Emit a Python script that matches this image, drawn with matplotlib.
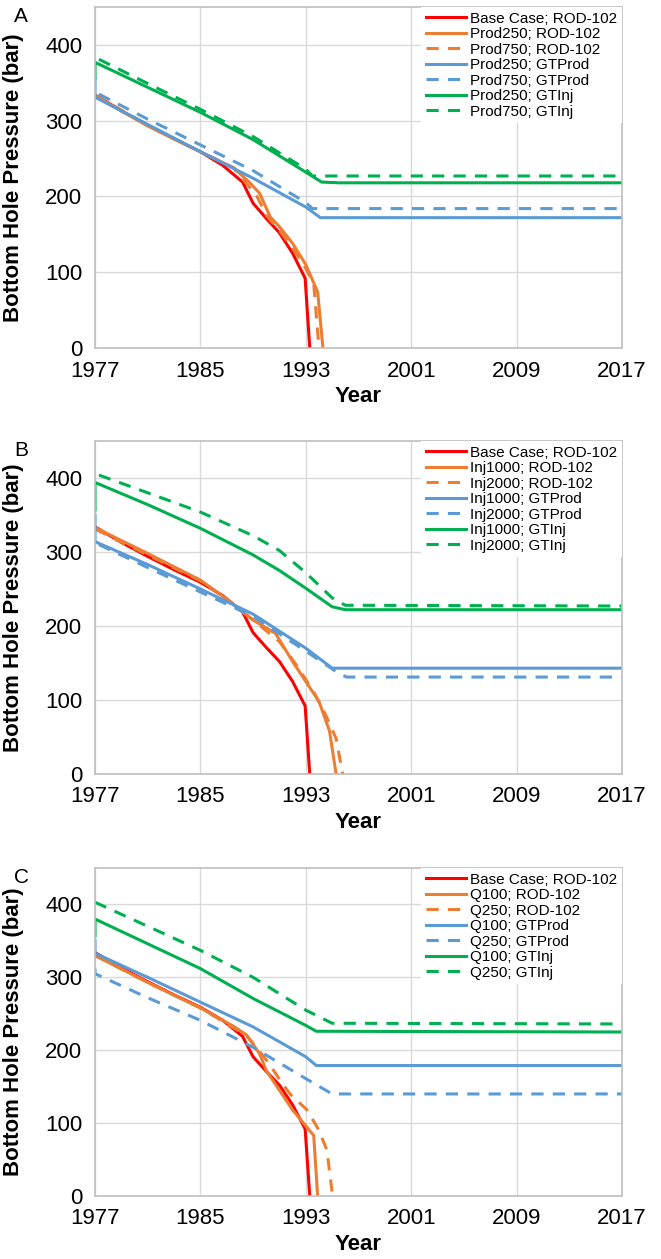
import matplotlib as mpl
mpl.use('Agg')
import matplotlib.pyplot as plt

plt.rcParams['font.family'] = ['Liberation Sans', 'DejaVu Sans']

# colours (Excel palette)
RED = '#FF0000'
ORANGE = '#ED7D31'
BLUE = '#5B9BD5'
GREEN = '#00B050'

# Base case, same curve in all three panels
base_years = [1977, 1979, 1981, 1983, 1985, 1986.7, 1988.2, 1989, 1990, 1991, 1992, 1992.95, 1993.3]
base_bhp = [334, 313, 294, 276, 259, 241, 219, 191, 171, 152, 125, 92, 0]

# ---- panel A: production rate
A_rod_s_x = [1977, 1981, 1985, 1987.5, 1988.7, 1989.5, 1990.3, 1991, 1992, 1993, 1993.9, 1994.3]
A_rod_s_y = [333, 293, 259, 238, 219, 204, 173, 160, 138, 110, 74, 0]
A_rod_d_x = [1977, 1981, 1985, 1987.5, 1988.5, 1989.3, 1990, 1991, 1992, 1993, 1993.6, 1994.0]
A_rod_d_y = [334, 294, 259, 238, 217, 200, 175, 155, 132, 105, 85, 0]
A_gtp_s_x = [1977, 1977, 1981, 1985, 1989, 1993, 1994.1, 2017]
A_gtp_s_y = [355, 331, 295, 259, 224, 186, 172, 172]
A_gtp_d_x = [1977.3, 1981, 1985, 1989, 1993, 1993.5, 2017]
A_gtp_d_y = [335, 302, 268, 234, 192, 184, 184]
A_gti_s_x = [1977, 1977, 1981, 1985, 1989, 1993, 1994.2, 1995.5, 2017]
A_gti_s_y = [357, 377, 344, 311, 275, 232, 219, 218, 218]
A_gti_d_x = [1977.3, 1981, 1985, 1989, 1993, 1993.5, 2017]
A_gti_d_y = [381, 349, 315, 279, 236, 227, 227]
A_labels = ['Base Case; ROD-102', 'Prod250; ROD-102', 'Prod750; ROD-102',
            'Prod250; GTProd', 'Prod750; GTProd', 'Prod250; GTInj', 'Prod750; GTInj']

# ---- panel B: injection rate
B_rod_s_x = [1977, 1981, 1985, 1987.1, 1989, 1990.7, 1992, 1993, 1994, 1994.8, 1995.3]
B_rod_s_y = [333, 298, 262, 235, 208, 190, 152, 125, 98, 58, 0]
B_rod_d_x = [1977, 1981, 1985, 1987.1, 1989, 1991, 1992.3, 1993.6, 1994.5, 1995.3, 1995.8]
B_rod_d_y = [331, 296, 261, 235, 208, 179, 147, 111, 80, 48, 0]
B_gtp_s_x = [1977, 1977, 1981, 1985, 1989, 1993, 1995, 2017]
B_gtp_s_y = [350, 314, 283, 250, 216, 170, 143, 143]
B_gtp_d_x = [1977.3, 1981, 1985, 1989, 1993, 1995.5, 1996.1, 2017]
B_gtp_d_y = [310, 279, 246, 213, 166, 136, 131, 131]
B_gti_s_x = [1977, 1977, 1981, 1985, 1989, 1991, 1993, 1995, 1996, 2017]
B_gti_s_y = [357, 394, 364, 332, 296, 275, 251, 226, 222, 222]
B_gti_d_x = [1977.3, 1981, 1985, 1989, 1991, 1993, 1995, 1996, 2017]
B_gti_d_y = [404, 380, 354, 322, 302, 272, 238, 228, 227]
B_labels = ['Base Case; ROD-102', 'Inj1000; ROD-102', 'Inj2000; ROD-102',
            'Inj1000; GTProd', 'Inj2000; GTProd', 'Inj1000; GTInj', 'Inj2000; GTInj']

# ---- panel C: flow rate
C_rod_s_x = [1977, 1981, 1985, 1987.5, 1988.5, 1989.5, 1990, 1991, 1992, 1993.6, 1993.9]
C_rod_s_y = [330, 293, 258, 233, 221, 195, 172, 145, 118, 83, 0]
C_rod_d_x = [1977, 1981, 1985, 1988.5, 1989.2, 1990.2, 1991, 1991.8, 1993.1, 1994, 1994.6, 1995]
C_rod_d_y = [330, 293, 258, 220, 205, 182, 160, 140, 118, 90, 63, 5]
C_gtp_s_x = [1977, 1977, 1981, 1985, 1989, 1993, 1993.8, 2017]
C_gtp_s_y = [350, 333, 300, 266, 232, 191, 179, 179]
C_gtp_d_x = [1977, 1977, 1981, 1985, 1989, 1993, 1995, 2017]
C_gtp_d_y = [312, 305, 272, 241, 204, 161, 140, 140]
C_gti_s_x = [1977, 1977, 1981, 1985, 1989, 1993, 1993.8, 2017]
C_gti_s_y = [357, 380, 346, 312, 271, 234, 226, 225]
C_gti_d_x = [1977, 1981, 1985, 1989, 1993, 1995, 2017]
C_gti_d_y = [403, 370, 337, 300, 255, 237, 236]
C_labels = ['Base Case; ROD-102', 'Q100; ROD-102', 'Q250; ROD-102',
            'Q100; GTProd', 'Q250; GTProd', 'Q100; GTInj', 'Q250; GTInj']

xticks = [1977, 1985, 1993, 2001, 2009, 2017]
yticks = [0, 100, 200, 300, 400]

LW = 2.2
DASH = (4, 3)


def draw_panel(ax, letter, labels, series, h_px):
    styles = [(RED, None), (ORANGE, None), (ORANGE, DASH), (BLUE, None),
              (BLUE, DASH), (GREEN, None), (GREEN, DASH)]
    for (xs, ys), (col, dash), lab in zip(series, styles, labels):
        line, = ax.plot(xs, ys, color=col, lw=LW, label=lab, solid_joinstyle='miter')
        if dash is not None:
            line.set_dashes(dash)

    ax.set_xlim(1977, 2017)
    ax.set_ylim(0, 450)
    ax.set_xticks(xticks)
    ax.set_yticks(yticks)
    ax.tick_params(length=0, labelsize=16, pad=9)
    ax.grid(True, color='#D9D9D9', lw=1)
    ax.set_axisbelow(True)
    for sp in ax.spines.values():
        sp.set_color('#BFBFBF')
        sp.set_linewidth(1.2)

    ax.set_ylabel('Bottom Hole Pressure (bar)', fontsize=16, fontweight='bold')
    ax.set_xlabel('Year', fontsize=16, fontweight='bold')
    ax.yaxis.set_label_coords(-0.135, 0.5)
    # top of "Year" about 38 px under the axis
    ax.xaxis.set_label_coords(0.5, -38.0 / h_px)

    ax.legend(loc='upper right', bbox_to_anchor=(1.0, 1.0), borderaxespad=0,
              fontsize=11, labelspacing=0.1, handlelength=2.6,
              handletextpad=0.3, borderpad=0.3, fancybox=False,
              framealpha=1, edgecolor='none', facecolor='white')
    ax.text(-0.14, 1.0, letter, transform=ax.transAxes, fontsize=15,
            ha='center', va='top')


fig = plt.figure(figsize=(6.61, 12.59), dpi=100)

W, H = 661.0, 1259.0
boxes = [(95, 622, 7, 348), (95, 622, 441, 774), (95, 622, 868, 1196)]
axes = []
for l, r, t, b in boxes:
    axes.append(fig.add_axes([l / W, 1 - b / H, (r - l) / W, (b - t) / H]))

draw_panel(axes[0], 'A', A_labels,
           [(base_years, base_bhp), (A_rod_s_x, A_rod_s_y), (A_rod_d_x, A_rod_d_y),
            (A_gtp_s_x, A_gtp_s_y), (A_gtp_d_x, A_gtp_d_y),
            (A_gti_s_x, A_gti_s_y), (A_gti_d_x, A_gti_d_y)], 341)
draw_panel(axes[1], 'B', B_labels,
           [(base_years, base_bhp), (B_rod_s_x, B_rod_s_y), (B_rod_d_x, B_rod_d_y),
            (B_gtp_s_x, B_gtp_s_y), (B_gtp_d_x, B_gtp_d_y),
            (B_gti_s_x, B_gti_s_y), (B_gti_d_x, B_gti_d_y)], 333)
draw_panel(axes[2], 'C', C_labels,
           [(base_years, base_bhp), (C_rod_s_x, C_rod_s_y), (C_rod_d_x, C_rod_d_y),
            (C_gtp_s_x, C_gtp_s_y), (C_gtp_d_x, C_gtp_d_y),
            (C_gti_s_x, C_gti_s_y), (C_gti_d_x, C_gti_d_y)], 328)

fig.savefig('out.png', dpi=100)
